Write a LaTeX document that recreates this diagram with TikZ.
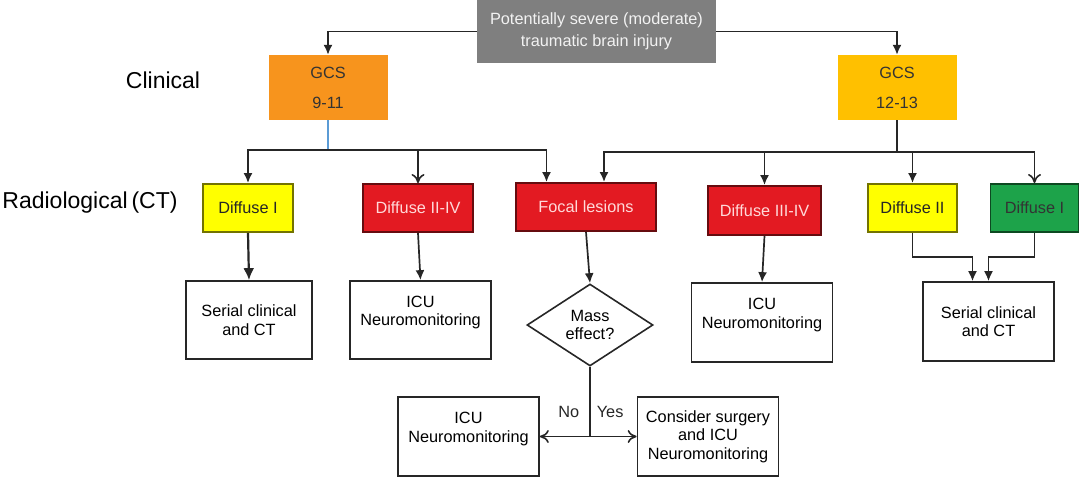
\documentclass[tikz,border=0pt]{standalone}
\usepackage{fontspec}
\setmainfont{Liberation Sans}
\usepackage{tikz}
\usetikzlibrary{positioning,shapes,arrows,arrows.meta}

\definecolor{tbigray}{HTML}{7F7F7F}
\definecolor{gcsorange}{HTML}{F7941D}
\definecolor{gcsamber}{HTML}{FFC000}
\definecolor{ctyellow}{HTML}{FFFF00}
\definecolor{ctred}{HTML}{E31A22}
\definecolor{ctgreen}{HTML}{1DA34A}
\definecolor{linkblue}{HTML}{5B9BD5}

\begin{document}
\begin{tikzpicture}[x=1pt,y=-1pt,
    txt/.style={font=\fontsize{16.3}{18.5}\selectfont, align=center, inner sep=0pt},
    box/.style={txt, draw=black!85, line width=1.7pt, fill=white},
    ctbox/.style={txt, draw=#1!45!black, line width=1.9pt, minimum height=48pt},
    gcs/.style={txt, fill=#1, text=black!80, minimum width=119pt, minimum height=65pt},
    arr/.style={line width=1.7pt, black!85, -{Latex[length=10pt,width=9pt]}},
    openarr/.style={line width=1.6pt, black!85, -{To[length=9pt,width=13pt]}},
    lbl/.style={font=\fontsize{23}{27}\selectfont}
]
    \useasboundingbox (0,0) rectangle (1080,477);

    % Row labels
    \node[lbl] (clin) at (163,80) {Clinical};
    \node[lbl] (radio) at (90,203) {Radiological\,(CT)};

    % Top and GCS boxes
    \node[txt, fill=tbigray, text=white!95!black, minimum width=239pt, minimum height=63pt,
          font=\fontsize{16.3}{21.5}\selectfont] (tbi) at (596.5,31.5)
          {Potentially severe (moderate)\\traumatic brain injury};
    \node[gcs=gcsorange] (gcsA) at (328,87.5) {GCS\\[11.5pt]9-11};
    \node[gcs=gcsamber] (gcsB) at (897,87.5) {GCS\\[11.5pt]12-13};

    % CT findings
    \node[ctbox=ctyellow, fill=ctyellow, text=black!85, minimum width=90pt] (difA) at (248,208) {Diffuse I};
    \node[ctbox=ctred, fill=ctred, text=white!85!red, minimum width=110pt] (difB) at (418,208) {Diffuse II-IV};
    \node[ctbox=ctred, fill=ctred, text=white!85!red, minimum width=140pt] (focal) at (586,207) {Focal lesions};
    \node[ctbox=ctred, fill=ctred, text=white!85!red, minimum width=113pt, minimum height=49pt] (difC) at (764.5,210.5) {Diffuse III-IV};
    \node[ctbox=ctyellow, fill=ctyellow, text=black!85, minimum width=89pt] (difD) at (912.5,208) {Diffuse II};
    \node[ctbox=ctgreen, fill=ctgreen, text=black!80, minimum width=88pt] (difE) at (1034.5,208) {Diffuse I};

    % Management boxes
    \node[box, minimum width=126pt, minimum height=78pt] (serA) at (249,320) {Serial clinical\\and CT};
    \node[box, minimum width=141pt, minimum height=78pt] (icuA) at (420.5,320) {ICU\\Neuromonitoring\\\mbox{}};
    \node[draw=black!85, diamond, line width=1.6pt, minimum width=126pt, minimum height=82pt,
          txt, aspect=1.54] (mass) at (590,325) {Mass\\effect?};
    \node[box, minimum width=141pt, minimum height=79pt] (icuC) at (762,322.5) {ICU\\Neuromonitoring\\\mbox{}};
    \node[box, minimum width=131pt, minimum height=79pt] (serB) at (988.5,321.5) {Serial clinical\\and CT};
    \node[box, minimum width=141pt, minimum height=79pt] (icuB) at (468.5,436.5) {ICU\\Neuromonitoring\\\mbox{}};
    \node[box, minimum width=141pt, minimum height=79pt] (surg) at (708,436.5) {Consider surgery\\and ICU\\Neuromonitoring};

    % Bus points
    \coordinate (busA) at (328,150);
    \coordinate (busB) at (897,152);
    \coordinate (split) at (590,436.5);

    % From TBI to GCS
    \draw[arr] (tbi.west) -| (gcsA.north);
    \draw[arr] (tbi.east) -| (gcsB.north);

    % GCS 9-11 branches
    \draw[linkblue, line width=1.2pt] (gcsA.south) -- (busA);
    \draw[arr] (busA) -| (difA.north);
    \draw[arr] (busA) -| ([xshift=-39.5pt]focal.north);
    \draw[openarr] (difB.north |- busA) -- (difB.north);

    % GCS 12-13 branches
    \draw[line width=1.7pt, black!85] (gcsB.south) -- (busB);
    \draw[arr] (busB) -| ([xshift=18pt]focal.north);
    \draw[arr] (busB) -| (difC.north);
    \draw[arr] (difD.north |- busB) -- (difD.north);
    \draw[openarr] (busB) -| (difE.north);

    % CT to management
    \draw[line width=2.2pt, black!85, -{Latex[length=12pt,width=11pt]}] (difA.south) -- (serA.north);
    \draw[arr] (difB.south) -- (icuA.north);
    \draw[arr] (focal.south) -- (mass.north);
    \draw[arr] (difC.south) -- (icuC.north);
    \draw[arr] (difD.south) -- ++(0,24) -| ([xshift=-16pt]serB.north);
    \draw[arr] (difE.south) -- ++(0,24) -| (serB.north);

    % Mass effect decision
    \draw[line width=1.6pt, black!85] (mass.south) -- (split)
        node[txt, pos=0.65, left=10pt] (no) {No}
        node[txt, pos=0.65, right=6pt] (yes) {Yes};
    \draw[openarr] (split) -- (icuB.east);
    \draw[openarr] (split) -- (surg.west);
\end{tikzpicture}
\end{document}
